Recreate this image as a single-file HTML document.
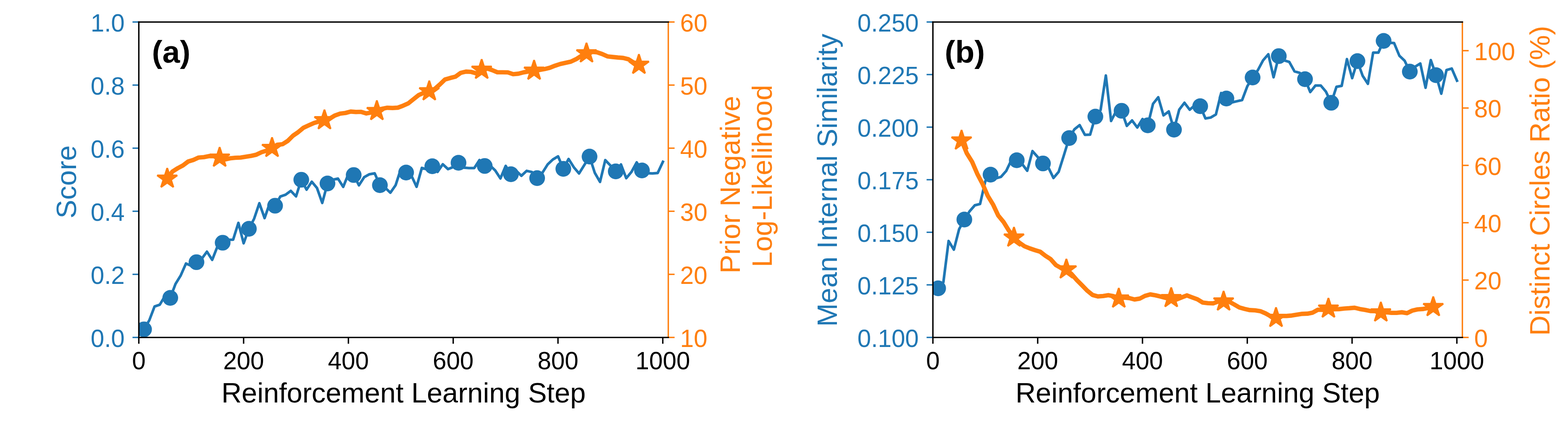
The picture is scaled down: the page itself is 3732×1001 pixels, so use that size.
<!DOCTYPE html>
<html><head><meta charset="utf-8"><title>chart</title>
<style>html,body{margin:0;padding:0;background:#fff;font-family:"Liberation Sans",sans-serif;}svg{display:block}svg text{font-family:"Liberation Sans",sans-serif;}</style>
</head><body>
<svg width="3732" height="1001" viewBox="0 0 3732 1001" role="img" aria-label="Two-panel line chart">
<rect width="3732" height="1001" fill="#fff"/>
<clipPath id="c0"><rect x="330.4" y="52.3" width="1260.2" height="750"/></clipPath>
<g clip-path="url(#c0)">
<polyline fill="none" stroke="#1f77b4" stroke-width="6.25" stroke-linejoin="round" stroke-linecap="square" points="342.87,783.1 355.35,761.5 367.82,728.8 380.3,724.5 392.77,703.5 405.24,708.2 417.72,675.2 430.19,654.8 442.67,626.6 455.14,632 467.61,623.4 480.09,615.3 492.56,598.4 505.04,617.9 517.51,586.2 529.98,577.1 542.46,570.1 554.93,569.8 567.41,529.9 579.88,578.5 592.35,544 604.83,520.1 617.3,483.2 629.78,518.6 642.25,482.5 654.72,489.1 667.2,467.3 679.67,463 692.15,453.8 704.62,466.9 717.09,427.4 729.57,450.9 742.04,432.1 754.52,447.1 766.99,482.5 779.46,436.2 791.94,427.4 804.41,424.6 816.89,444.3 829.36,413.6 841.83,416.1 854.31,440.6 866.78,421.3 879.26,414.3 891.73,412.1 904.2,440.3 916.68,446.3 929.15,458.2 941.63,440.3 954.1,401.7 966.57,410.2 979.05,417.2 991.52,444.1 1004,399.3 1016.47,402.7 1028.94,395.2 1041.42,408.7 1053.89,390.6 1066.37,402.1 1078.84,397 1091.31,387 1103.79,398.7 1116.26,399.6 1128.74,399.6 1141.21,380.5 1153.68,394.6 1166.16,393.2 1178.63,405.3 1191.11,424.3 1203.58,394.5 1216.05,414.3 1228.53,406 1241,417.9 1253.48,406.2 1265.95,409 1278.42,423.5 1290.9,410.9 1303.37,391.1 1315.85,379.3 1328.32,371.8 1340.79,401.5 1353.27,378 1365.74,397.7 1378.22,412.4 1390.69,392.3 1403.16,372.3 1415.64,410.9 1428.11,432.5 1440.59,380.8 1453.06,393.6 1465.53,407.5 1478.01,391.1 1490.48,423.7 1502.96,408.8 1515.43,386.1 1527.9,405.3 1540.38,411.8 1552.85,412.4 1565.33,411.3 1577.8,384.7"/>
<circle cx="342.87" cy="783.1" r="18.7" fill="#1f77b4"/>
<circle cx="405.24" cy="708.2" r="18.7" fill="#1f77b4"/>
<circle cx="467.61" cy="623.4" r="18.7" fill="#1f77b4"/>
<circle cx="529.98" cy="577.1" r="18.7" fill="#1f77b4"/>
<circle cx="592.35" cy="544" r="18.7" fill="#1f77b4"/>
<circle cx="654.72" cy="489.1" r="18.7" fill="#1f77b4"/>
<circle cx="717.09" cy="427.4" r="18.7" fill="#1f77b4"/>
<circle cx="779.46" cy="436.2" r="18.7" fill="#1f77b4"/>
<circle cx="841.83" cy="416.1" r="18.7" fill="#1f77b4"/>
<circle cx="904.2" cy="440.3" r="18.7" fill="#1f77b4"/>
<circle cx="966.57" cy="410.2" r="18.7" fill="#1f77b4"/>
<circle cx="1028.94" cy="395.2" r="18.7" fill="#1f77b4"/>
<circle cx="1091.31" cy="387" r="18.7" fill="#1f77b4"/>
<circle cx="1153.68" cy="394.6" r="18.7" fill="#1f77b4"/>
<circle cx="1216.05" cy="414.3" r="18.7" fill="#1f77b4"/>
<circle cx="1278.42" cy="423.5" r="18.7" fill="#1f77b4"/>
<circle cx="1340.79" cy="401.5" r="18.7" fill="#1f77b4"/>
<circle cx="1403.16" cy="372.3" r="18.7" fill="#1f77b4"/>
<circle cx="1465.53" cy="407.5" r="18.7" fill="#1f77b4"/>
<circle cx="1527.9" cy="405.3" r="18.7" fill="#1f77b4"/>
<polyline fill="none" stroke="#ff7f0e" stroke-width="10.42" stroke-linejoin="round" stroke-linecap="square" points="398,424.7 410.47,407.8 422.95,400 435.42,393.4 447.9,384 460.37,380.2 472.84,374.6 485.32,373.6 497.79,371.2 510.27,371.2 522.74,374.9 535.21,379.3 547.69,376.4 560.16,375.1 572.64,374.6 585.11,372.7 597.58,370.6 610.06,367.8 622.53,361.9 635.01,358 647.48,351.7 659.95,344.2 672.43,342.9 684.9,335 697.38,322.6 709.85,314.1 722.32,303.7 734.8,298.1 747.27,292.5 759.75,288.7 772.22,285.8 784.69,282 797.17,274.6 809.64,270.1 822.12,268.6 834.59,265.2 847.06,266.2 859.54,265.9 872.01,269.7 884.49,267.4 896.96,264 909.43,258.6 921.91,256.2 934.38,256.7 946.86,256 959.33,251.3 971.8,245.8 984.28,235.8 996.75,225.9 1009.23,220.4 1021.7,217 1034.17,212 1046.65,201 1059.12,189 1071.6,185.4 1084.07,182.2 1096.54,173.3 1109.02,170.3 1121.49,170.9 1133.97,174.5 1146.44,165.9 1158.91,162.5 1171.39,166.7 1183.86,171.9 1196.34,171.9 1208.81,172.1 1221.28,176.4 1233.76,175.2 1246.23,172 1258.71,169.9 1271.18,168 1283.65,166.5 1296.13,164.2 1308.6,161.1 1321.08,156.2 1333.55,152.1 1346.02,149.3 1358.5,146.6 1370.97,140.8 1383.45,133 1395.92,126.8 1408.39,123.2 1420.87,124.2 1433.34,128.5 1445.82,134.1 1458.29,135.5 1470.76,136.8 1483.24,137.7 1495.71,140.9 1508.19,148.6 1520.66,154"/>
<polygon fill="#ff7f0e" stroke="#ff7f0e" stroke-width="4.17" stroke-linejoin="bevel" points="398,399.7 392.39,416.97 374.22,416.97 388.92,427.65 383.31,444.93 398,434.25 412.69,444.93 407.08,427.65 421.78,416.97 403.61,416.97"/>
<polygon fill="#ff7f0e" stroke="#ff7f0e" stroke-width="4.17" stroke-linejoin="bevel" points="522.74,349.9 517.13,367.17 498.96,367.17 513.66,377.85 508.05,395.13 522.74,384.45 537.43,395.13 531.82,377.85 546.52,367.17 528.35,367.17"/>
<polygon fill="#ff7f0e" stroke="#ff7f0e" stroke-width="4.17" stroke-linejoin="bevel" points="647.48,326.7 641.87,343.97 623.7,343.97 638.4,354.65 632.79,371.93 647.48,361.25 662.17,371.93 656.56,354.65 671.26,343.97 653.09,343.97"/>
<polygon fill="#ff7f0e" stroke="#ff7f0e" stroke-width="4.17" stroke-linejoin="bevel" points="772.22,260.8 766.61,278.07 748.44,278.07 763.14,288.75 757.53,306.03 772.22,295.35 786.91,306.03 781.3,288.75 796,278.07 777.83,278.07"/>
<polygon fill="#ff7f0e" stroke="#ff7f0e" stroke-width="4.17" stroke-linejoin="bevel" points="896.96,239 891.35,256.27 873.18,256.27 887.88,266.95 882.27,284.23 896.96,273.55 911.65,284.23 906.04,266.95 920.74,256.27 902.57,256.27"/>
<polygon fill="#ff7f0e" stroke="#ff7f0e" stroke-width="4.17" stroke-linejoin="bevel" points="1021.7,192 1016.09,209.27 997.92,209.27 1012.62,219.95 1007.01,237.23 1021.7,226.55 1036.39,237.23 1030.78,219.95 1045.48,209.27 1027.31,209.27"/>
<polygon fill="#ff7f0e" stroke="#ff7f0e" stroke-width="4.17" stroke-linejoin="bevel" points="1146.44,140.9 1140.83,158.17 1122.66,158.17 1137.36,168.85 1131.75,186.13 1146.44,175.45 1161.13,186.13 1155.52,168.85 1170.22,158.17 1152.05,158.17"/>
<polygon fill="#ff7f0e" stroke="#ff7f0e" stroke-width="4.17" stroke-linejoin="bevel" points="1271.18,143 1265.57,160.27 1247.4,160.27 1262.1,170.95 1256.49,188.23 1271.18,177.55 1285.87,188.23 1280.26,170.95 1294.96,160.27 1276.79,160.27"/>
<polygon fill="#ff7f0e" stroke="#ff7f0e" stroke-width="4.17" stroke-linejoin="bevel" points="1395.92,101.8 1390.31,119.07 1372.14,119.07 1386.84,129.75 1381.23,147.03 1395.92,136.35 1410.61,147.03 1405,129.75 1419.7,119.07 1401.53,119.07"/>
<polygon fill="#ff7f0e" stroke="#ff7f0e" stroke-width="4.17" stroke-linejoin="bevel" points="1520.66,129 1515.05,146.27 1496.88,146.27 1511.58,156.95 1505.97,174.23 1520.66,163.55 1535.35,174.23 1529.74,156.95 1544.44,146.27 1526.27,146.27"/>
</g>
<line x1="330.4" y1="802.3" x2="330.4" y2="817.3" stroke="#000" stroke-width="3.33"/>
<text x="330.4" y="877.7" font-size="58.33" fill="#000000" text-anchor="middle">0</text>
<line x1="579.82" y1="802.3" x2="579.82" y2="817.3" stroke="#000" stroke-width="3.33"/>
<text x="579.82" y="877.7" font-size="58.33" fill="#000000" text-anchor="middle">200</text>
<line x1="829.24" y1="802.3" x2="829.24" y2="817.3" stroke="#000" stroke-width="3.33"/>
<text x="829.24" y="877.7" font-size="58.33" fill="#000000" text-anchor="middle">400</text>
<line x1="1078.66" y1="802.3" x2="1078.66" y2="817.3" stroke="#000" stroke-width="3.33"/>
<text x="1078.66" y="877.7" font-size="58.33" fill="#000000" text-anchor="middle">600</text>
<line x1="1328.08" y1="802.3" x2="1328.08" y2="817.3" stroke="#000" stroke-width="3.33"/>
<text x="1328.08" y="877.7" font-size="58.33" fill="#000000" text-anchor="middle">800</text>
<line x1="1577.5" y1="802.3" x2="1577.5" y2="817.3" stroke="#000" stroke-width="3.33"/>
<text x="1577.5" y="877.7" font-size="58.33" fill="#000000" text-anchor="middle">1000</text>
<line x1="315.4" y1="802.3" x2="330.4" y2="802.3" stroke="#1f77b4" stroke-width="3.33"/>
<text x="296.8" y="824.6" font-size="58.33" fill="#1f77b4" text-anchor="end">0.0</text>
<line x1="315.4" y1="652.3" x2="330.4" y2="652.3" stroke="#1f77b4" stroke-width="3.33"/>
<text x="296.8" y="674.6" font-size="58.33" fill="#1f77b4" text-anchor="end">0.2</text>
<line x1="315.4" y1="502.3" x2="330.4" y2="502.3" stroke="#1f77b4" stroke-width="3.33"/>
<text x="296.8" y="524.6" font-size="58.33" fill="#1f77b4" text-anchor="end">0.4</text>
<line x1="315.4" y1="352.3" x2="330.4" y2="352.3" stroke="#1f77b4" stroke-width="3.33"/>
<text x="296.8" y="374.6" font-size="58.33" fill="#1f77b4" text-anchor="end">0.6</text>
<line x1="315.4" y1="202.3" x2="330.4" y2="202.3" stroke="#1f77b4" stroke-width="3.33"/>
<text x="296.8" y="224.6" font-size="58.33" fill="#1f77b4" text-anchor="end">0.8</text>
<line x1="315.4" y1="52.3" x2="330.4" y2="52.3" stroke="#1f77b4" stroke-width="3.33"/>
<text x="296.8" y="74.6" font-size="58.33" fill="#1f77b4" text-anchor="end">1.0</text>
<line x1="1590.6" y1="802.3" x2="1605.6" y2="802.3" stroke="#ff7f0e" stroke-width="3.33"/>
<text x="1618.8" y="824.6" font-size="58.33" fill="#ff7f0e">10</text>
<line x1="1590.6" y1="652.3" x2="1605.6" y2="652.3" stroke="#ff7f0e" stroke-width="3.33"/>
<text x="1618.8" y="674.6" font-size="58.33" fill="#ff7f0e">20</text>
<line x1="1590.6" y1="502.3" x2="1605.6" y2="502.3" stroke="#ff7f0e" stroke-width="3.33"/>
<text x="1618.8" y="524.6" font-size="58.33" fill="#ff7f0e">30</text>
<line x1="1590.6" y1="352.3" x2="1605.6" y2="352.3" stroke="#ff7f0e" stroke-width="3.33"/>
<text x="1618.8" y="374.6" font-size="58.33" fill="#ff7f0e">40</text>
<line x1="1590.6" y1="202.3" x2="1605.6" y2="202.3" stroke="#ff7f0e" stroke-width="3.33"/>
<text x="1618.8" y="224.6" font-size="58.33" fill="#ff7f0e">50</text>
<line x1="1590.6" y1="52.3" x2="1605.6" y2="52.3" stroke="#ff7f0e" stroke-width="3.33"/>
<text x="1618.8" y="74.6" font-size="58.33" fill="#ff7f0e">60</text>
<line x1="330.4" y1="50.63" x2="330.4" y2="803.97" stroke="#000" stroke-width="3.33"/>
<line x1="1590.6" y1="50.63" x2="1590.6" y2="803.97" stroke="#ff7f0e" stroke-width="3.33"/>
<line x1="328.73" y1="52.3" x2="1592.27" y2="52.3" stroke="#000" stroke-width="3.33"/>
<line x1="328.73" y1="802.3" x2="1592.27" y2="802.3" stroke="#000" stroke-width="3.33"/>
<text x="960.5" y="957.2" font-size="66.67" fill="#000000" text-anchor="middle">Reinforcement Learning Step</text>
<text x="361.5" y="148.9" font-size="75" font-weight="bold" fill="#000000">(a)</text>
<text transform="translate(180.5 432.4) rotate(-90)" font-size="66.67" fill="#1f77b4" text-anchor="middle">Score</text>
<text transform="translate(1760.9 439) rotate(-90)" font-size="66.67" fill="#ff7f0e" text-anchor="middle">Prior Negative</text>
<text transform="translate(1837.1 418.5) rotate(-90)" font-size="66.67" fill="#ff7f0e" text-anchor="middle">Log-Likelihood</text>
<clipPath id="c1"><rect x="2220.4" y="52.3" width="1260.2" height="750"/></clipPath>
<g clip-path="url(#c1)">
<polyline fill="none" stroke="#1f77b4" stroke-width="6.25" stroke-linejoin="round" stroke-linecap="square" points="2232.87,685.5 2245.35,671 2257.82,573 2270.3,593.5 2282.77,545 2295.24,522 2307.72,502.4 2320.19,488.1 2332.67,485 2345.14,430.8 2357.61,415.2 2370.09,424 2382.56,420.4 2395.04,406.2 2407.51,380 2419.98,381 2432.46,389.5 2444.93,406 2457.41,359.2 2469.88,373.4 2482.35,388.6 2494.83,397.3 2507.3,423.2 2519.78,408.4 2532.25,368.9 2544.72,328.2 2557.2,307.5 2569.67,297.5 2582.15,320.6 2594.62,320.2 2607.09,277.2 2619.57,261.6 2632.04,179.5 2644.52,287.6 2656.99,263.4 2669.46,263.4 2681.94,299.3 2694.41,286.3 2706.89,303.2 2719.36,283 2731.83,298 2744.31,246.9 2756.78,231.3 2769.26,274.3 2781.73,264.9 2794.2,308.3 2806.68,260.6 2819.15,244.3 2831.63,261 2844.1,250 2856.57,252.5 2869.05,281.6 2881.52,279.5 2894,272.1 2906.47,221.3 2918.94,234.2 2931.42,243.6 2943.89,240.7 2956.37,237.9 2968.84,204.9 2981.31,184.3 2993.79,166.9 3006.26,143.5 3018.74,129 3031.21,183.8 3043.68,133.4 3056.16,143.6 3068.63,147.3 3081.11,169.8 3093.58,173.3 3106.05,188.2 3118.53,218.9 3131,203.3 3143.48,203.3 3155.95,218.1 3168.42,244.4 3180.9,206.4 3193.37,204.2 3205.85,140.5 3218.32,185.8 3230.79,145.2 3243.27,180.3 3255.74,199.3 3268.22,125.1 3280.69,125.1 3293.16,97.2 3305.64,101.7 3318.11,102.4 3330.59,132.4 3343.06,144.2 3355.53,170.3 3368.01,158.6 3380.48,151 3392.96,208.6 3405.43,142.8 3417.9,178.7 3430.38,222.7 3442.85,166.4 3455.33,163 3467.8,191.9"/>
<circle cx="2232.87" cy="685.5" r="18.7" fill="#1f77b4"/>
<circle cx="2295.24" cy="522" r="18.7" fill="#1f77b4"/>
<circle cx="2357.61" cy="415.2" r="18.7" fill="#1f77b4"/>
<circle cx="2419.98" cy="381" r="18.7" fill="#1f77b4"/>
<circle cx="2482.35" cy="388.6" r="18.7" fill="#1f77b4"/>
<circle cx="2544.72" cy="328.2" r="18.7" fill="#1f77b4"/>
<circle cx="2607.09" cy="277.2" r="18.7" fill="#1f77b4"/>
<circle cx="2669.46" cy="263.4" r="18.7" fill="#1f77b4"/>
<circle cx="2731.83" cy="298" r="18.7" fill="#1f77b4"/>
<circle cx="2794.2" cy="308.3" r="18.7" fill="#1f77b4"/>
<circle cx="2856.57" cy="252.5" r="18.7" fill="#1f77b4"/>
<circle cx="2918.94" cy="234.2" r="18.7" fill="#1f77b4"/>
<circle cx="2981.31" cy="184.3" r="18.7" fill="#1f77b4"/>
<circle cx="3043.68" cy="133.4" r="18.7" fill="#1f77b4"/>
<circle cx="3106.05" cy="188.2" r="18.7" fill="#1f77b4"/>
<circle cx="3168.42" cy="244.4" r="18.7" fill="#1f77b4"/>
<circle cx="3230.79" cy="145.2" r="18.7" fill="#1f77b4"/>
<circle cx="3293.16" cy="97.2" r="18.7" fill="#1f77b4"/>
<circle cx="3355.53" cy="170.3" r="18.7" fill="#1f77b4"/>
<circle cx="3417.9" cy="178.7" r="18.7" fill="#1f77b4"/>
<polyline fill="none" stroke="#ff7f0e" stroke-width="10.42" stroke-linejoin="round" stroke-linecap="square" points="2288.6,334.1 2301.07,364.5 2313.55,384.4 2326.02,413.3 2338.5,437.2 2350.97,465.6 2363.44,486.1 2375.92,512.5 2388.39,527.6 2400.87,547.7 2413.34,564.9 2425.81,576.7 2438.29,585.5 2450.76,590.5 2463.24,594.8 2475.71,598.5 2488.18,608.1 2500.66,616.2 2513.13,630.2 2525.61,637.2 2538.08,640.6 2550.55,651.7 2563.03,666 2575.5,678.5 2587.98,691.3 2600.45,701.4 2612.92,704.7 2625.4,703.9 2637.87,701.8 2650.35,704.1 2662.82,709.9 2675.29,707.5 2687.77,708.7 2700.24,712 2712.72,710 2725.19,703.5 2737.66,700 2750.14,702.1 2762.61,705.1 2775.09,708.5 2787.56,708.7 2800.03,712.3 2812.51,707.1 2824.98,702.3 2837.46,707.1 2849.93,711.6 2862.4,719.3 2874.88,720.9 2887.35,721.3 2899.83,716.9 2912.3,716.8 2924.77,716.9 2937.25,723.7 2949.72,731 2962.2,734.5 2974.67,737.3 2987.14,737.9 2999.62,739.8 3012.09,745.1 3024.57,752 3037.04,755.8 3049.51,751.4 3061.99,751.2 3074.46,750.2 3086.94,748.2 3099.41,746.2 3111.88,745.8 3124.36,743.3 3136.83,736.4 3149.31,736.9 3161.78,733.7 3174.25,735.2 3186.73,735 3199.2,733.6 3211.68,732.8 3224.15,731.7 3236.62,734.8 3249.1,736.9 3261.57,739.5 3274.05,739.9 3286.52,742.9 3298.99,742.5 3311.47,743.9 3323.94,743.9 3336.42,742.5 3348.89,744.6 3361.36,738.5 3373.84,735.6 3386.31,734.8 3398.79,732.4 3411.26,730.1"/>
<polygon fill="#ff7f0e" stroke="#ff7f0e" stroke-width="4.17" stroke-linejoin="bevel" points="2288.6,309.1 2282.99,326.37 2264.82,326.37 2279.52,337.05 2273.91,354.33 2288.6,343.65 2303.29,354.33 2297.68,337.05 2312.38,326.37 2294.21,326.37"/>
<polygon fill="#ff7f0e" stroke="#ff7f0e" stroke-width="4.17" stroke-linejoin="bevel" points="2413.34,539.9 2407.73,557.17 2389.56,557.17 2404.26,567.85 2398.65,585.13 2413.34,574.45 2428.03,585.13 2422.42,567.85 2437.12,557.17 2418.95,557.17"/>
<polygon fill="#ff7f0e" stroke="#ff7f0e" stroke-width="4.17" stroke-linejoin="bevel" points="2538.08,615.6 2532.47,632.87 2514.3,632.87 2529,643.55 2523.39,660.83 2538.08,650.15 2552.77,660.83 2547.16,643.55 2561.86,632.87 2543.69,632.87"/>
<polygon fill="#ff7f0e" stroke="#ff7f0e" stroke-width="4.17" stroke-linejoin="bevel" points="2662.82,684.9 2657.21,702.17 2639.04,702.17 2653.74,712.85 2648.13,730.13 2662.82,719.45 2677.51,730.13 2671.9,712.85 2686.6,702.17 2668.43,702.17"/>
<polygon fill="#ff7f0e" stroke="#ff7f0e" stroke-width="4.17" stroke-linejoin="bevel" points="2787.56,683.7 2781.95,700.97 2763.78,700.97 2778.48,711.65 2772.87,728.93 2787.56,718.25 2802.25,728.93 2796.64,711.65 2811.34,700.97 2793.17,700.97"/>
<polygon fill="#ff7f0e" stroke="#ff7f0e" stroke-width="4.17" stroke-linejoin="bevel" points="2912.3,691.8 2906.69,709.07 2888.52,709.07 2903.22,719.75 2897.61,737.03 2912.3,726.35 2926.99,737.03 2921.38,719.75 2936.08,709.07 2917.91,709.07"/>
<polygon fill="#ff7f0e" stroke="#ff7f0e" stroke-width="4.17" stroke-linejoin="bevel" points="3037.04,730.8 3031.43,748.07 3013.26,748.07 3027.96,758.75 3022.35,776.03 3037.04,765.35 3051.73,776.03 3046.12,758.75 3060.82,748.07 3042.65,748.07"/>
<polygon fill="#ff7f0e" stroke="#ff7f0e" stroke-width="4.17" stroke-linejoin="bevel" points="3161.78,708.7 3156.17,725.97 3138,725.97 3152.7,736.65 3147.09,753.93 3161.78,743.25 3176.47,753.93 3170.86,736.65 3185.56,725.97 3167.39,725.97"/>
<polygon fill="#ff7f0e" stroke="#ff7f0e" stroke-width="4.17" stroke-linejoin="bevel" points="3286.52,717.9 3280.91,735.17 3262.74,735.17 3277.44,745.85 3271.83,763.13 3286.52,752.45 3301.21,763.13 3295.6,745.85 3310.3,735.17 3292.13,735.17"/>
<polygon fill="#ff7f0e" stroke="#ff7f0e" stroke-width="4.17" stroke-linejoin="bevel" points="3411.26,705.1 3405.65,722.37 3387.48,722.37 3402.18,733.05 3396.57,750.33 3411.26,739.65 3425.95,750.33 3420.34,733.05 3435.04,722.37 3416.87,722.37"/>
</g>
<line x1="2220.4" y1="802.3" x2="2220.4" y2="817.3" stroke="#000" stroke-width="3.33"/>
<text x="2220.4" y="877.7" font-size="58.33" fill="#000000" text-anchor="middle">0</text>
<line x1="2469.82" y1="802.3" x2="2469.82" y2="817.3" stroke="#000" stroke-width="3.33"/>
<text x="2469.82" y="877.7" font-size="58.33" fill="#000000" text-anchor="middle">200</text>
<line x1="2719.24" y1="802.3" x2="2719.24" y2="817.3" stroke="#000" stroke-width="3.33"/>
<text x="2719.24" y="877.7" font-size="58.33" fill="#000000" text-anchor="middle">400</text>
<line x1="2968.66" y1="802.3" x2="2968.66" y2="817.3" stroke="#000" stroke-width="3.33"/>
<text x="2968.66" y="877.7" font-size="58.33" fill="#000000" text-anchor="middle">600</text>
<line x1="3218.08" y1="802.3" x2="3218.08" y2="817.3" stroke="#000" stroke-width="3.33"/>
<text x="3218.08" y="877.7" font-size="58.33" fill="#000000" text-anchor="middle">800</text>
<line x1="3467.5" y1="802.3" x2="3467.5" y2="817.3" stroke="#000" stroke-width="3.33"/>
<text x="3467.5" y="877.7" font-size="58.33" fill="#000000" text-anchor="middle">1000</text>
<line x1="2205.4" y1="802.3" x2="2220.4" y2="802.3" stroke="#1f77b4" stroke-width="3.33"/>
<text x="2186.8" y="824.6" font-size="58.33" fill="#1f77b4" text-anchor="end">0.100</text>
<line x1="2205.4" y1="677.3" x2="2220.4" y2="677.3" stroke="#1f77b4" stroke-width="3.33"/>
<text x="2186.8" y="699.6" font-size="58.33" fill="#1f77b4" text-anchor="end">0.125</text>
<line x1="2205.4" y1="552.3" x2="2220.4" y2="552.3" stroke="#1f77b4" stroke-width="3.33"/>
<text x="2186.8" y="574.6" font-size="58.33" fill="#1f77b4" text-anchor="end">0.150</text>
<line x1="2205.4" y1="427.3" x2="2220.4" y2="427.3" stroke="#1f77b4" stroke-width="3.33"/>
<text x="2186.8" y="449.6" font-size="58.33" fill="#1f77b4" text-anchor="end">0.175</text>
<line x1="2205.4" y1="302.3" x2="2220.4" y2="302.3" stroke="#1f77b4" stroke-width="3.33"/>
<text x="2186.8" y="324.6" font-size="58.33" fill="#1f77b4" text-anchor="end">0.200</text>
<line x1="2205.4" y1="177.3" x2="2220.4" y2="177.3" stroke="#1f77b4" stroke-width="3.33"/>
<text x="2186.8" y="199.6" font-size="58.33" fill="#1f77b4" text-anchor="end">0.225</text>
<line x1="2205.4" y1="52.3" x2="2220.4" y2="52.3" stroke="#1f77b4" stroke-width="3.33"/>
<text x="2186.8" y="74.6" font-size="58.33" fill="#1f77b4" text-anchor="end">0.250</text>
<line x1="3480.6" y1="802.3" x2="3495.6" y2="802.3" stroke="#ff7f0e" stroke-width="3.33"/>
<text x="3508.8" y="824.6" font-size="58.33" fill="#ff7f0e">0</text>
<line x1="3480.6" y1="665.94" x2="3495.6" y2="665.94" stroke="#ff7f0e" stroke-width="3.33"/>
<text x="3508.8" y="688.24" font-size="58.33" fill="#ff7f0e">20</text>
<line x1="3480.6" y1="529.57" x2="3495.6" y2="529.57" stroke="#ff7f0e" stroke-width="3.33"/>
<text x="3508.8" y="551.87" font-size="58.33" fill="#ff7f0e">40</text>
<line x1="3480.6" y1="393.21" x2="3495.6" y2="393.21" stroke="#ff7f0e" stroke-width="3.33"/>
<text x="3508.8" y="415.51" font-size="58.33" fill="#ff7f0e">60</text>
<line x1="3480.6" y1="256.85" x2="3495.6" y2="256.85" stroke="#ff7f0e" stroke-width="3.33"/>
<text x="3508.8" y="279.15" font-size="58.33" fill="#ff7f0e">80</text>
<line x1="3480.6" y1="120.48" x2="3495.6" y2="120.48" stroke="#ff7f0e" stroke-width="3.33"/>
<text x="3508.8" y="142.78" font-size="58.33" fill="#ff7f0e">100</text>
<line x1="2220.4" y1="50.63" x2="2220.4" y2="803.97" stroke="#000" stroke-width="3.33"/>
<line x1="3480.6" y1="50.63" x2="3480.6" y2="803.97" stroke="#ff7f0e" stroke-width="3.33"/>
<line x1="2218.73" y1="52.3" x2="3482.27" y2="52.3" stroke="#000" stroke-width="3.33"/>
<line x1="2218.73" y1="802.3" x2="3482.27" y2="802.3" stroke="#000" stroke-width="3.33"/>
<text x="2850.5" y="957.2" font-size="66.67" fill="#000000" text-anchor="middle">Reinforcement Learning Step</text>
<text x="2248.5" y="148.9" font-size="75" font-weight="bold" fill="#000000">(b)</text>
<text transform="translate(1992.1 428.5) rotate(-90)" font-size="66.67" fill="#1f77b4" text-anchor="middle">Mean Internal Similarity</text>
<text transform="translate(3688 429.8) rotate(-90)" font-size="66.67" fill="#ff7f0e" text-anchor="middle">Distinct Circles Ratio (%)</text>
</svg>
</body></html>
